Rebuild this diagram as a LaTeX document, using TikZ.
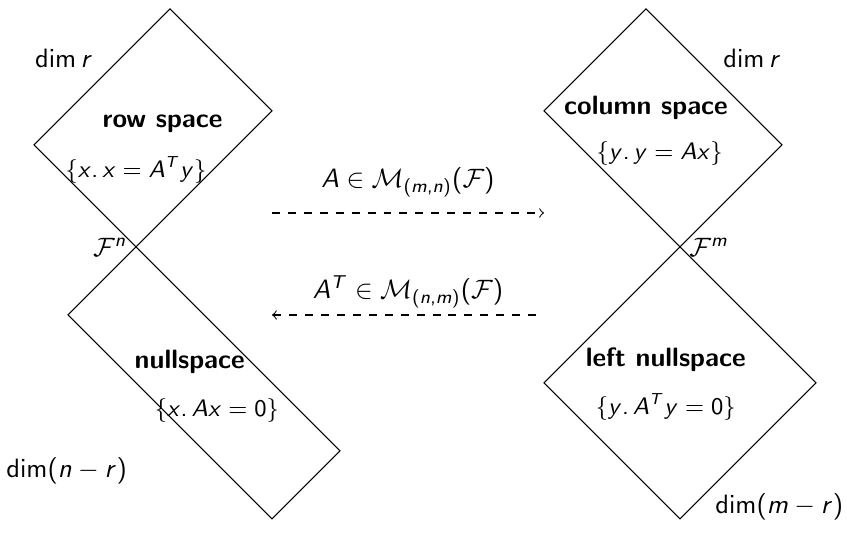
\documentclass[tikz,border=0pt]{standalone}
% sans serif math, as in beamer
\DeclareSymbolFont{operators}{OT1}{cmss}{m}{n}
\SetSymbolFont{operators}{bold}{OT1}{cmss}{bx}{n}
\SetSymbolFont{letters}{normal}{OT1}{cmss}{m}{it}
\DeclareMathSymbol{.}{\mathord}{operators}{`.}
\DeclareMathSymbol{,}{\mathpunct}{operators}{`,}
\begin{document}
\begin{tikzpicture}[x=0.9cm, y=0.9cm, >=to, every node/.style={font=\sffamily},
        set/.style={font=\sffamily\small}]
        \useasboundingbox (-2,-4.235) rectangle (10.456,3.632);
        \coordinate (fn) at (0,0);
        \coordinate (fm) at (8,0);
        % domain
        \draw (fn) -- (2,2) -- (0.5,3.5) -- node[above left] (dimrow) {$\dim r$} (-1.5,1.5) -- cycle;
        \draw (fn) -- (-1,-1) -- (2,-4) -- (3,-3) -- cycle;
        \node[left] (Fn) at (fn) {$\mathcal{F}^n$};
        \node (row) at (0.39,1.81) {\bfseries row space};
        \node[set] (rowset) at (0,1.13) {$\{x.\,x=A^Ty\}$};
        \node (null) at (0.79,-1.69) {\bfseries nullspace};
        \node[set] (nullset) at (1.19,-2.40) {$\{x.\,Ax=0\}$};
        \node (dimnull) at (-1.02,-3.29) {$\dim(n-r)$};
        % codomain
        \draw (fm) -- (6,2) -- (7.5,3.5) -- node[above right] (dimcol) {$\dim r$} (9.5,1.5) -- cycle;
        \draw (fm) -- (6,-2) -- (8,-4) -- (10,-2) -- cycle;
        \node[right] (Fm) at (fm) {$\mathcal{F}^m$};
        \node (col) at (7.5,2.04) {\bfseries column space};
        \node[set] (colset) at (7.70,1.37) {$\{y.\,y=Ax\}$};
        \node (lnull) at (7.79,-1.66) {\bfseries left nullspace};
        \node[set] (lnullset) at (7.79,-2.35) {$\{y.\,A^Ty=0\}$};
        \node (dimlnull) at (9.46,-3.82) {$\dim(m-r)$};
        % the maps
        \coordinate (a1) at (2,0.5);
        \coordinate (a2) at (6,0.5);
        \coordinate (b1) at (2,-1);
        \coordinate (b2) at (6,-1);
        \draw[->,dashed] (a1) -- (a2);
        \draw[<-,dashed] (b1) -- (b2);
        \node (A) at (4,0.95) {$A\in\mathcal{M}_{(m,n)}(\mathcal{F})$};
        \node (AT) at (4,-0.66) {$A^T\in\mathcal{M}_{(n,m)}(\mathcal{F})$};
    \end{tikzpicture}
\end{document}
